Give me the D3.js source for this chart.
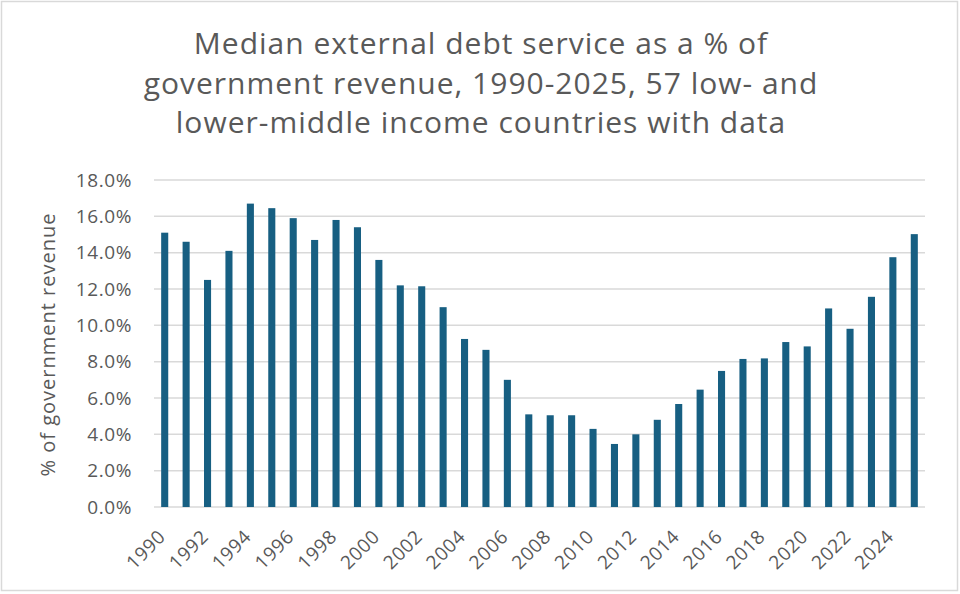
<!DOCTYPE html>
<html>
<head>
<meta charset="utf-8">
<script src="https://cdn.jsdelivr.net/npm/d3@7"></script>
<style>
  body { margin: 0; background: #fff; }
  svg { display: block; }
  text { font-family: "Open Sans", "Noto Sans", sans-serif; fill: #595959; }
</style>
</head>
<body>
<svg width="960" height="594"></svg>
<script>
// data
var years = d3.range(1990, 2026);
var values = [15.1, 14.6, 12.5, 14.1, 16.7, 16.45, 15.9, 14.7, 15.8, 15.4,
              13.6, 12.2, 12.15, 11.0, 9.25, 8.65, 7.0, 5.1, 5.05, 5.05,
              4.3, 3.47, 4.0, 4.8, 5.67, 6.46, 7.49, 8.15, 8.18, 9.08,
              8.84, 10.93, 9.81, 11.57, 13.75, 15.02];
var yTicks = [0, 2, 4, 6, 8, 10, 12, 14, 16, 18];
var titleLines = ["Median external debt service as a % of",
                  "government revenue, 1990-2025, 57 low- and",
                  "lower-middle income countries with data"];

var data = years.map(function(y, i) { return {year: y, value: values[i]}; });

var svg = d3.select("svg");
var margin = {top: 180, right: 35, bottom: 87, left: 154};
var width = 960 - margin.left - margin.right;
var height = 594 - margin.top - margin.bottom;

// outer frame
svg.append("rect")
  .attr("x", 1.5).attr("y", 1.5)
  .attr("width", 956).attr("height", 589)
  .attr("fill", "#fff").attr("stroke", "#d9d9d9").attr("stroke-width", 1.5);

// title
svg.append("g").selectAll("text")
  .data(titleLines)
  .enter().append("text")
    .attr("x", 481)
    .attr("y", function(d, i) { return 54 + i * 39.5; })
    .attr("text-anchor", "middle")
    .style("font-size", "30px")
    .style("letter-spacing", "1px")
    .text(function(d) { return d; });

var g = svg.append("g").attr("transform", "translate(" + margin.left + "," + margin.top + ")");

var x = d3.scaleBand().domain(years).range([0, width]).paddingInner(0.67).paddingOuter(0.335);
var y = d3.scaleLinear().domain([0, 18]).range([height, 0]);

// gridlines
g.append("g")
  .selectAll("line")
  .data(yTicks)
  .enter().append("line")
    .attr("x1", 0).attr("x2", width)
    .attr("y1", function(d) { return y(d); })
    .attr("y2", function(d) { return y(d); })
    .attr("stroke", "#d9d9d9").attr("stroke-width", 1.5);

// bars
g.append("g")
  .selectAll("rect")
  .data(data)
  .enter().append("rect")
    .attr("x", function(d) { return x(d.year); })
    .attr("width", x.bandwidth())
    .attr("y", function(d) { return y(d.value); })
    .attr("height", function(d) { return height - y(d.value); })
    .attr("fill", "#175f82");

// y axis
var yAxis = g.append("g")
  .call(d3.axisLeft(y).tickValues(yTicks).tickSize(0).tickPadding(22)
    .tickFormat(function(d) { return d.toFixed(1) + "%"; }));
yAxis.select(".domain").remove();
yAxis.selectAll("text")
  .style("font-size", "19px")
  .style("letter-spacing", "0.6px")
  .attr("fill", "#595959");

// x axis, every second year
var xAxis = g.append("g")
  .attr("transform", "translate(0," + height + ")")
  .call(d3.axisBottom(x).tickValues(years.filter(function(d) { return d % 2 === 0; })).tickSize(0));
xAxis.select(".domain").remove();
xAxis.selectAll("text")
  .style("font-size", "19px")
  .style("letter-spacing", "0.6px")
  .attr("fill", "#595959")
  .attr("text-anchor", "end")
  .attr("x", 0).attr("y", 0)
  .attr("dy", null)
  .attr("transform", "translate(2,31) rotate(-45)");

// y axis title
svg.append("text")
  .attr("transform", "translate(55," + (margin.top + height / 2 + 1) + ") rotate(-90)")
  .attr("text-anchor", "middle")
  .style("font-size", "20px")
  .style("letter-spacing", "1px")
  .text("% of government revenue");
</script>
</body>
</html>
